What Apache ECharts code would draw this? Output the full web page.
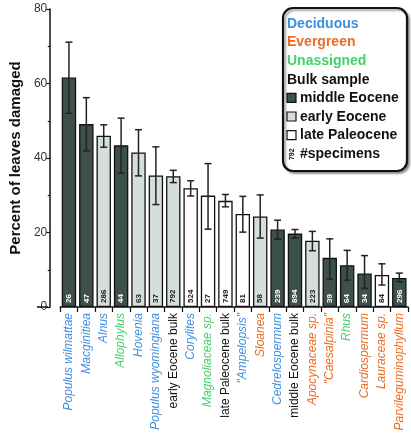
<!DOCTYPE html>
<html><head><meta charset="utf-8">
<script src="https://cdn.jsdelivr.net/npm/echarts@6/dist/echarts.min.js"></script>
<style>html,body{margin:0;padding:0;background:#fff}#c{width:411px;height:440px}</style>
</head><body><div id="c"></div>
<script>
const categories = ['Populus wilmattae','Macginitiea','Alnus','Allophylus','Hovenia','Populus wyomingiana','early Eocene bulk','Corylites','Magnoliaceae sp.','late Paleocene bulk','"Ampelopsis"','Sloanea','Cedrelospermum','middle Eocene bulk','Apocynaceae sp.','"Caesalpinia"','Rhus','Cardiospermum','Lauraceae sp.','Parvileguminophyllum'];
const values  = [61.6, 49.1, 46.0, 43.4, 41.5, 35.3, 35.1, 31.9, 29.9, 28.5, 25.0, 24.3, 20.8, 19.7, 17.8, 13.2, 11.2, 9.0, 8.6, 7.8];
const errLow  = [52.0, 41.9, 42.9, 35.9, 35.2, 27.5, 33.4, 29.8, 20.9, 26.9, 20.1, 18.5, 18.2, 18.5, 15.1, 7.5, 7.2, 5.0, 5.9, 6.8];
const errHigh = [71.1, 56.2, 48.9, 50.7, 47.6, 43.0, 36.7, 33.9, 38.5, 30.2, 29.7, 30.1, 23.3, 20.8, 20.3, 18.3, 15.2, 13.8, 11.6, 9.1];
// period of sample: M = middle Eocene, E = early Eocene, L = late Paleocene
const periods = ['M','M','E','M','E','E','E','L','L','L','L','E','M','M','E','M','M','M','L','M'];
// label group: d = deciduous, e = evergreen, u = unassigned, b = bulk sample
const groups = ['d','d','d','u','d','d','b','d','u','b','d','e','d','b','e','e','u','e','e','e'];
const specimens = [26, 47, 286, 44, 63, 37, 792, 524, 27, 749, 81, 58, 239, 894, 223, 39, 64, 34, 84, 296];
const yTicks = [0, 20, 40, 60, 80];

const periodFill = {M:'#3e504a', E:'#d4dfdb', L:'#ffffff'};
const periodText = {M:'#ffffff', E:'#222222', L:'#222222'};
const groupColor = {d:'#3f8fe0', e:'#ee6b22', u:'#45d06a', b:'#111111'};
const FONT = '"Liberation Sans", Arial, Helvetica, sans-serif';

const barData = values.map((v,i)=>({
  value: v,
  itemStyle: {color: periodFill[periods[i]]},
  label: {color: periodText[periods[i]]}
}));
const errData = categories.map((c,i)=>[i, errLow[i], errHigh[i]]);

const chart = echarts.init(document.getElementById('c'), null, {renderer:'canvas'});

const legendLines = [
  {t:'Deciduous', c:groupColor.d},
  {t:'Evergreen', c:groupColor.e},
  {t:'Unassigned', c:groupColor.u},
  {t:'Bulk sample', c:'#111'},
  {t:'middle Eocene', c:'#111', sw:periodFill.M},
  {t:'early Eocene', c:'#111', sw:periodFill.E},
  {t:'late Paleocene', c:'#111', sw:periodFill.L},
  {t:'#specimens', c:'#111', num:'792'}
];
const lg = [];
lg.push({type:'rect', shape:{x:283, y:8, width:124, height:163, r:10},
  style:{fill:'#fff', stroke:'#111', lineWidth:2.2, shadowColor:'rgba(0,0,0,0.35)', shadowOffsetX:2, shadowOffsetY:2, shadowBlur:2}, z:10});
legendLines.forEach((l,k)=>{
  const cy = 24 + k*18.6;
  let tx = 287;
  if (l.sw) {
    lg.push({type:'rect', shape:{x:287, y:cy-5, width:9, height:9}, style:{fill:l.sw, stroke:'#111', lineWidth:1.2}, z:11});
    tx = 300;
  }
  if (l.num) {
    lg.push({type:'text', x:292, y:cy, rotation:Math.PI/2, style:{text:l.num, fill:'#111', font:'bold 7px '+FONT, align:'center', verticalAlign:'middle'}, z:11});
    tx = 300;
  }
  lg.push({type:'text', x:tx, y:cy, style:{text:l.t, fill:l.c, font:'bold 14px '+FONT, verticalAlign:'middle', align:'left'}, z:11});
});
// small stub of x axis between y axis line and first category
lg.push({type:'line', shape:{x1:37, y1:307, x2:48, y2:307}, style:{stroke:'#111', lineWidth:1.5}, z:5});

const option = {
  animation:false,
  backgroundColor:'#fff',
  textStyle:{fontFamily:FONT},
  grid:{left:48, right:3, top:9, bottom:133, containLabel:false},
  xAxis:{
    type:'category', data:categories,
    axisLine:{lineStyle:{color:'#111', width:1.5}},
    axisTick:{show:true, length:5, lineStyle:{color:'#111', width:1.2}},
    axisLabel:{
      rotate:90, margin:6, interval:0,
      formatter:(v,i)=>'{'+groups[i]+'|'+v+'}',
      rich:{
        d:{color:groupColor.d, fontStyle:'italic', fontSize:12, fontFamily:FONT},
        e:{color:groupColor.e, fontStyle:'italic', fontSize:12, fontFamily:FONT},
        u:{color:groupColor.u, fontStyle:'italic', fontSize:12, fontFamily:FONT},
        b:{color:groupColor.b, fontSize:12, fontFamily:FONT}
      }
    }
  },
  yAxis:{
    type:'value', min:0, max:80, interval:20, offset:10,
    name:'Percent of leaves damaged', nameLocation:'middle', nameGap:22,
    nameTextStyle:{fontSize:15, fontWeight:'bold', color:'#111', fontFamily:FONT},
    axisLine:{show:true, lineStyle:{color:'#111', width:1.5}},
    axisTick:{show:true, length:4, lineStyle:{color:'#111', width:1.2}},
    minorTick:{show:true, splitNumber:2, length:2.5, lineStyle:{color:'#111', width:1.2}},
    splitLine:{show:false},
    axisLabel:{fontSize:12, color:'#333', margin:3,
      formatter:v=> yTicks.indexOf(v)>=0 ? String(v) : ''}
  },
  series:[
    {
      type:'bar', data:barData, barCategoryGap:'17%',
      itemStyle:{borderColor:'#111', borderWidth:1.3},
      label:{show:true, position:'insideBottom', rotate:90, align:'left', verticalAlign:'middle', distance:4,
        fontSize:8, fontWeight:'bold', fontFamily:FONT,
        formatter:p=>String(specimens[p.dataIndex])},
      z:2
    },
    {
      type:'custom', data:errData, z:3,
      encode:{x:0, y:[1,2]},
      renderItem:(params, api)=>{
        const lo = api.coord([api.value(0), api.value(1)]);
        const hi = api.coord([api.value(0), api.value(2)]);
        const hw = 3.5;
        const st = {stroke:'#222', lineWidth:1.5};
        return {type:'group', children:[
          {type:'line', shape:{x1:lo[0], y1:lo[1], x2:hi[0], y2:hi[1]}, style:st},
          {type:'line', shape:{x1:lo[0]-hw, y1:lo[1], x2:lo[0]+hw, y2:lo[1]}, style:st},
          {type:'line', shape:{x1:hi[0]-hw, y1:hi[1], x2:hi[0]+hw, y2:hi[1]}, style:st}
        ]};
      }
    }
  ],
  graphic: lg
};
chart.setOption(option);
</script></body></html>
